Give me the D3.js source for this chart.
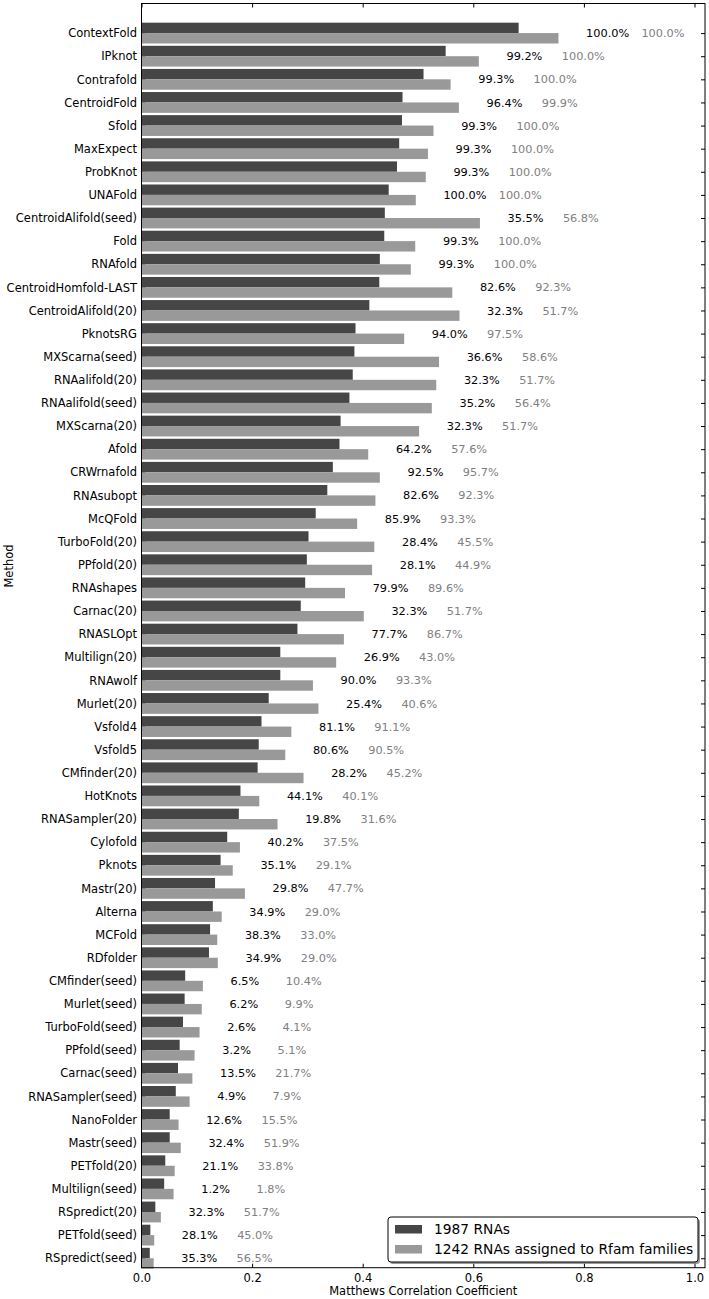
<!DOCTYPE html>
<head>
  <meta charset="utf-8">
  <script src="https://d3js.org/d3.v7.min.js"></script>
  <style>
    body { margin:0; background:#fff; }
    text { font-family: "DejaVu Sans", sans-serif; }
  </style>
</head>

<body>
  <svg width="709" height="1299" id="vis"></svg>
<script>
  var methods = ["ContextFold","IPknot","Contrafold","CentroidFold","Sfold","MaxExpect","ProbKnot","UNAFold",
    "CentroidAlifold(seed)","Fold","RNAfold","CentroidHomfold-LAST","CentroidAlifold(20)","PknotsRG",
    "MXScarna(seed)","RNAalifold(20)","RNAalifold(seed)","MXScarna(20)","Afold","CRWrnafold","RNAsubopt",
    "McQFold","TurboFold(20)","PPfold(20)","RNAshapes","Carnac(20)","RNASLOpt","Multilign(20)","RNAwolf",
    "Murlet(20)","Vsfold4","Vsfold5","CMfinder(20)","HotKnots","RNASampler(20)","Cylofold","Pknots",
    "Mastr(20)","Alterna","MCFold","RDfolder","CMfinder(seed)","Murlet(seed)","TurboFold(seed)",
    "PPfold(seed)","Carnac(seed)","RNASampler(seed)","NanoFolder","Mastr(seed)","PETfold(20)",
    "Multilign(seed)","RSpredict(20)","PETfold(seed)","RSpredict(seed)"];

  // MCC, all 1987 RNAs
  var mccAll = [0.682,0.550,0.510,0.472,0.471,0.466,0.462,0.447,0.440,0.439,0.431,0.430,0.412,0.387,
    0.385,0.382,0.376,0.360,0.358,0.346,0.336,0.315,0.302,0.299,0.296,0.288,0.282,0.251,0.251,
    0.230,0.217,0.212,0.210,0.179,0.176,0.155,0.143,0.133,0.129,0.124,0.122,0.079,0.078,0.075,
    0.069,0.066,0.062,0.051,0.051,0.043,0.041,0.025,0.016,0.015];

  // MCC, 1242 RNAs in Rfam families
  var mccRfam = [0.754,0.610,0.559,0.574,0.528,0.518,0.514,0.496,0.612,0.495,0.487,0.562,0.575,0.475,
    0.538,0.533,0.525,0.502,0.410,0.431,0.423,0.390,0.421,0.417,0.368,0.402,0.366,0.352,0.310,
    0.320,0.271,0.260,0.293,0.213,0.246,0.178,0.165,0.187,0.145,0.137,0.138,0.111,0.109,0.105,
    0.096,0.092,0.087,0.067,0.071,0.060,0.058,0.035,0.023,0.022];

  // coverage labels
  var covAll = ["100.0%","99.2%","99.3%","96.4%","99.3%","99.3%","99.3%","100.0%","35.5%","99.3%","99.3%",
    "82.6%","32.3%","94.0%","36.6%","32.3%","35.2%","32.3%","64.2%","92.5%","82.6%","85.9%","28.4%",
    "28.1%","79.9%","32.3%","77.7%","26.9%","90.0%","25.4%","81.1%","80.6%","28.2%","44.1%","19.8%",
    "40.2%","35.1%","29.8%","34.9%","38.3%","34.9%","6.5%","6.2%","2.6%","3.2%","13.5%","4.9%",
    "12.6%","32.4%","21.1%","1.2%","32.3%","28.1%","35.3%"];
  var covRfam = ["100.0%","100.0%","100.0%","99.9%","100.0%","100.0%","100.0%","100.0%","56.8%","100.0%",
    "100.0%","92.3%","51.7%","97.5%","58.6%","51.7%","56.4%","51.7%","57.6%","95.7%","92.3%","93.3%",
    "45.5%","44.9%","89.6%","51.7%","86.7%","43.0%","93.3%","40.6%","91.1%","90.5%","45.2%","40.1%",
    "31.6%","37.5%","29.1%","47.7%","29.0%","33.0%","29.0%","10.4%","9.9%","4.1%","5.1%","21.7%",
    "7.9%","15.5%","51.9%","33.8%","1.8%","51.7%","45.0%","56.5%"];

  var xTicks = [0, 0.2, 0.4, 0.6, 0.8, 1.0];
  var seriesNames = ["1987 RNAs", "1242 RNAs assigned to Rfam families"];
  var colors = ["#464646", "#999999"];

  var svg = d3.select("#vis"),
      pLeft = 141.5, pRight = 705, pTop = 3.5, pBottom = 1267.7;

  var x = d3.scaleLinear().domain([0, 1.019]).range([pLeft, pRight]);
  var y = d3.scaleLinear().domain([-1.28, 53.41]).range([pTop, pBottom]);
  var step = y(1) - y(0), barH = step * 0.45;

  var idx = d3.range(methods.length);

  // axes (inward ticks, matplotlib classic look)
  svg.append("g")
    .attr("transform", "translate(0," + pBottom + ")")
    .call(d3.axisBottom(x).tickValues(xTicks).tickFormat(d3.format(".1f")).tickSize(-4).tickPadding(6))
    .call(function(g) { g.select(".domain").remove(); })
    .selectAll("text").attr("font-size", 11.5).attr("fill", "#000");

  svg.append("g")
    .attr("transform", "translate(0," + pTop + ")")
    .call(d3.axisTop(x).tickValues(xTicks).tickFormat("").tickSize(-4))
    .call(function(g) { g.select(".domain").remove(); });

  svg.append("g")
    .attr("transform", "translate(" + pLeft + ",0)")
    .call(d3.axisLeft(y).tickValues(idx).tickFormat(function(i) { return methods[i]; }).tickSize(-4).tickPadding(4.5))
    .call(function(g) { g.select(".domain").remove(); })
    .selectAll("text").attr("font-size", 11.5).attr("fill", "#000");

  svg.append("g")
    .attr("transform", "translate(" + pRight + ",0)")
    .call(d3.axisRight(y).tickValues(idx).tickFormat("").tickSize(-4))
    .call(function(g) { g.select(".domain").remove(); });

  // bars
  var grp = svg.append("g");
  grp.selectAll(".barA").data(idx).enter().append("rect")
    .attr("x", x(0))
    .attr("y", function(i) { return y(i) - barH; })
    .attr("width", function(i) { return x(mccAll[i]) - x(0); })
    .attr("height", barH)
    .attr("fill", colors[0]);

  grp.selectAll(".barB").data(idx).enter().append("rect")
    .attr("x", x(0))
    .attr("y", function(i) { return y(i); })
    .attr("width", function(i) { return x(mccRfam[i]) - x(0); })
    .attr("height", barH)
    .attr("fill", colors[1]);

  // coverage labels
  var lab = svg.append("g").attr("font-size", 11.3);
  lab.selectAll(".la").data(idx).enter().append("text")
    .attr("x", function(i) { return x(Math.max(mccAll[i], mccRfam[i]) + 0.05); })
    .attr("y", function(i) { return y(i); })
    .attr("dy", "0.36em")
    .attr("fill", "#000")
    .text(function(i) { return covAll[i]; });

  lab.selectAll(".lb").data(idx).enter().append("text")
    .attr("x", function(i) { return x(Math.max(mccAll[i], mccRfam[i]) + 0.15); })
    .attr("y", function(i) { return y(i); })
    .attr("dy", "0.36em")
    .attr("fill", "#808080")
    .text(function(i) { return covRfam[i]; });

  // frame
  svg.append("rect")
    .attr("x", pLeft).attr("y", pTop)
    .attr("width", pRight - pLeft).attr("height", pBottom - pTop)
    .attr("fill", "none").attr("stroke", "#000").attr("stroke-width", 1);

  // axis titles
  svg.append("text")
    .attr("x", (pLeft + pRight) / 2).attr("y", 1295)
    .attr("text-anchor", "middle").attr("font-size", 11.5)
    .text("Matthews Correlation Coefficient");

  svg.append("text")
    .attr("transform", "translate(13,566) rotate(-90)")
    .attr("text-anchor", "middle").attr("font-size", 11.5)
    .text("Method");

  // legend
  var lg = svg.append("g").attr("transform", "translate(388,1217)");
  lg.append("rect").attr("x", 2).attr("y", 2).attr("width", 310).attr("height", 45)
    .attr("rx", 3).attr("fill", "#555").attr("opacity", 0.6);
  lg.append("rect").attr("width", 310).attr("height", 45)
    .attr("rx", 3).attr("fill", "#fff").attr("stroke", "#000").attr("stroke-width", 1);

  lg.selectAll(".sw").data(seriesNames).enter().append("rect")
    .attr("x", 7).attr("y", function(d, i) { return 8 + i * 20; })
    .attr("width", 27).attr("height", 8.5)
    .attr("fill", function(d, i) { return colors[i]; });

  lg.selectAll(".lt").data(seriesNames).enter().append("text")
    .attr("x", 46).attr("y", function(d, i) { return 12 + i * 20; })
    .attr("dy", "0.36em").attr("font-size", 13.8)
    .text(function(d) { return d; });
</script>
</body>
